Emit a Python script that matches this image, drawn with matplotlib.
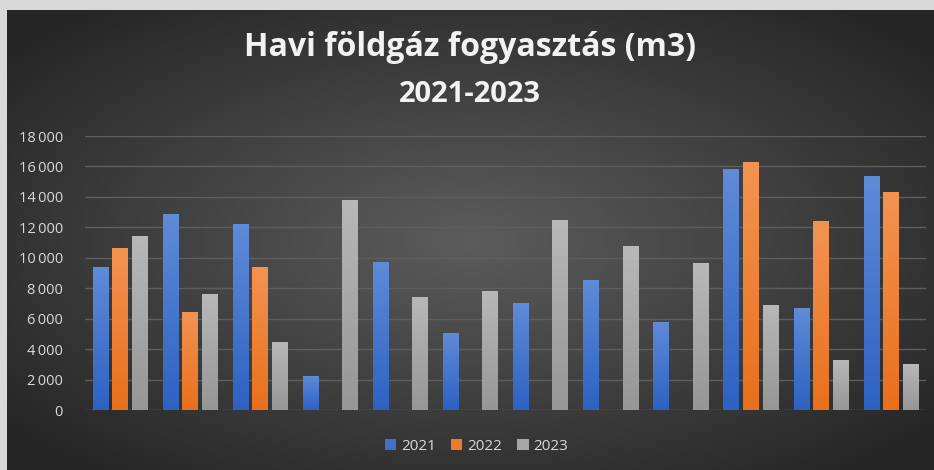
import numpy as np
import matplotlib
matplotlib.use("Agg")
import matplotlib.pyplot as plt
from matplotlib.colors import LinearSegmentedColormap
from matplotlib.patches import Patch

# Monthly gas usage (m3), 12 months, one list per year
months = list(range(1, 13))
y2021 = [9400, 12900, 12250, 2250, 9750, 5050, 7000, 8550, 5800, 15850, 6700, 15400]
y2022 = [10650, 6450, 9400, 0, 0, 0, 0, 0, 0, 16300, 12400, 14300]
y2023 = [11400, 7600, 4500, 13800, 7450, 7800, 12500, 10800, 9650, 6900, 3300, 3050]
series_names = ["2021", "2022", "2023"]
yticks = list(range(0, 18001, 2000))

# top / bottom colours of each series' bar gradient
bar_colors = [("#5f8bd8", "#2e62c2"), ("#f39352", "#e8701c"), ("#b8b8b8", "#969696")]
legend_colors = ["#3f70cc", "#ee7b2c", "#a6a6a6"]

W, H = 934, 470
fig = plt.figure(figsize=(W / 100, H / 100), dpi=100)
fig.patch.set_facecolor("#d9d9d9")

# dark chart area with radial gradient
bg = fig.add_axes([7 / W, 0, 1 - 7 / W, 1 - 10 / H])
bg.set_axis_off()
gx, gy = np.meshgrid(np.linspace(-1, 1, 400), np.linspace(-1, 1, 200))
r = np.clip(np.sqrt(gx ** 2 + gy ** 2) / 1.3, 0, 1)
bg_cmap = LinearSegmentedColormap.from_list("bg", ["#5c5c5c", "#262626"])
bg.imshow(r, cmap=bg_cmap, aspect="auto", extent=[0, 1, 0, 1], vmin=0, vmax=1)
bg.set_xlim(0, 1)
bg.set_ylim(0, 1)

ax = fig.add_axes([85 / W, 60 / H, (926 - 85) / W, (410 - 136) / H])
ax.set_facecolor("none")

x = np.arange(len(months))
step = 0.28
width = 0.22
grad = np.linspace(1, 0, 100).reshape(-1, 1)
for i, vals in enumerate([y2021, y2022, y2023]):
    bars = ax.bar(x + (i - 1) * step, vals, width, color="none", edgecolor="none", zorder=3)
    cmap = LinearSegmentedColormap.from_list("b%d" % i, [bar_colors[i][1], bar_colors[i][0]])
    for b in bars:
        if b.get_height() <= 0:
            continue
        x0, w, h = b.get_x(), b.get_width(), b.get_height()
        im = ax.imshow(grad, cmap=cmap, aspect="auto", extent=[x0, x0 + w, 0, h],
                       vmin=0, vmax=1, zorder=3)
        im.set_clip_path(b)

ax.set_xlim(-0.5, len(months) - 0.5)
ax.set_ylim(0, 18000)
ax.set_yticks(yticks)
ax.set_yticklabels([f"{v:,}".replace(",", "\u2009") for v in yticks])
ax.set_xticks([])
ax.grid(axis="y", color="#5e5e5e", linewidth=1, zorder=0)
for s in ax.spines.values():
    s.set_visible(False)
ax.tick_params(axis="y", length=0, pad=16, labelcolor="#d9d9d9", labelsize=10.5)
for lab in ax.get_yticklabels():
    lab.set_fontfamily("Open Sans")

fig.text(0.503, 1 - 48 / H, "Havi földgáz fogyasztás (m3)", ha="center", va="center",
         fontsize=23, fontweight="bold", color="#f2f2f2", family="Open Sans")
fig.text(0.503, 1 - 95 / H, "2021-2023", ha="center", va="center",
         fontsize=21, fontweight="bold", color="#f2f2f2", family="Open Sans")

handles = [Patch(facecolor=c, edgecolor="none") for c in legend_colors]
leg = fig.legend(handles, series_names, loc="center", bbox_to_anchor=(0.51, 1 - 446 / H),
                 ncol=3, frameon=False, handlelength=0.75, handleheight=0.75,
                 handletextpad=0.3, columnspacing=1.0, prop={"family": "Open Sans", "size": 11})
for t in leg.get_texts():
    t.set_color("#d9d9d9")

fig.savefig("out.png", dpi=100, facecolor=fig.get_facecolor())
